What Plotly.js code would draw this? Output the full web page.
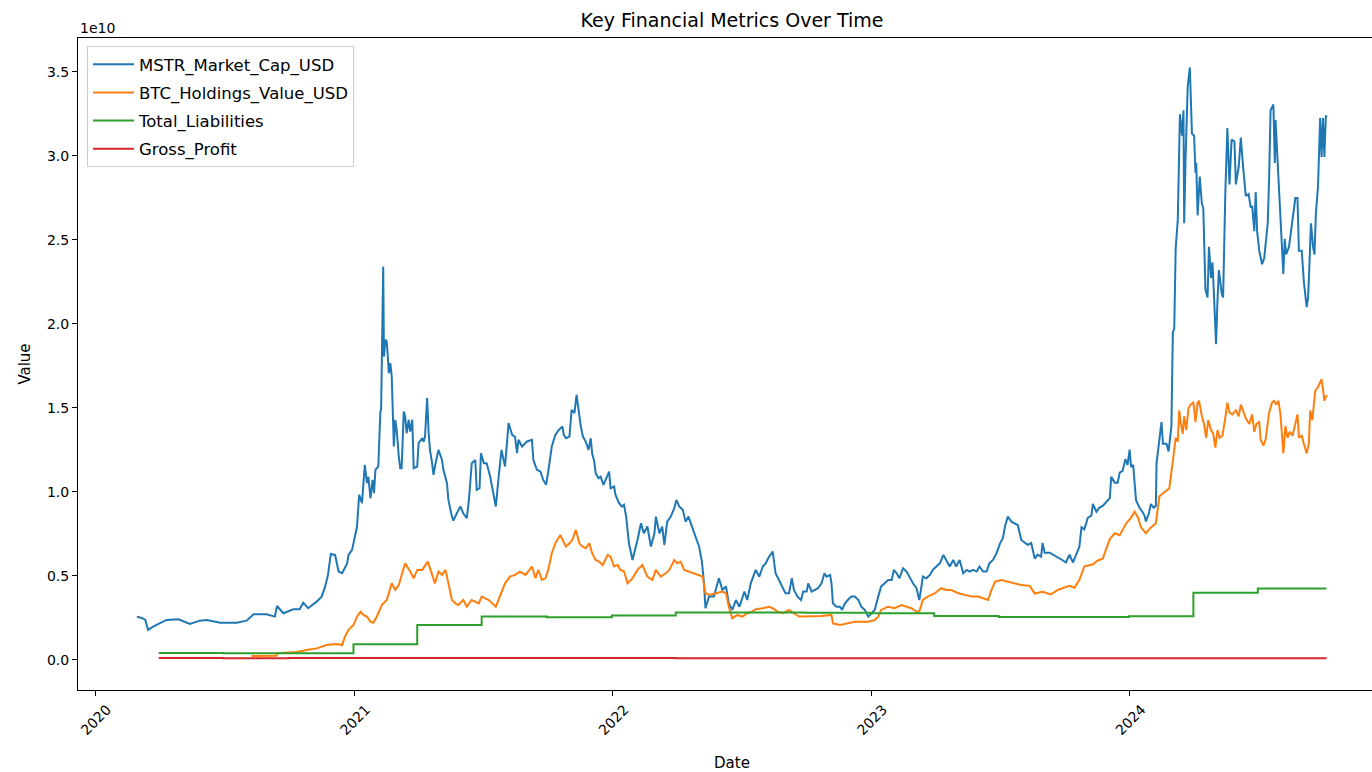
<!DOCTYPE html>
<html>
<head>
<meta charset="utf-8">
<script src="https://cdn.plot.ly/plotly-3.0.1.min.js"></script>
<style>
html,body{margin:0;padding:0;overflow:hidden;background:#fff;width:1372px;height:772px}
#chart{width:1390px;height:772px}
</style>
</head>
<body>
<div id="chart"></div>
<script>
// ---- data (days counted from 2020-01-01, values in billions of USD) ----
const mstrDay = [
59,66,71,75,82,92,101,118,129,134,
148,158,177,200,214,224,242,254,257,266,
280,289,294,301,313,320,325,329,333,339,
344,
349,356,358,363,367,370,373,377,381,384,
386,389,392,394,396,400,403,404,407,408,
410,412,415,417,419,422,424,426,429,431,
433,436,438,440,443,445,448,450,455,457,
462,464,466,469,471,473,476,478,480,485,
490,492,497,499,504,506,511,516,520,525,
528,532,537,539,543,545,549,553,558,563,
566,570,574,579,584,589,593,596,598,603,
610,617,619,624,629,633,637,640,645,650,
655,
660,662,665,670,673,677,680,683,686,689,
693,697,700,702,705,707,711,714,718,721,
726,728,733,735,740,744,747,750,754,759,
763,766,771,775,780,785,790,792,797,801,
804,808,813,818,821,825,830,834,838,844,
848,853,857,860,862,867,874,881,886,891,
895,900,905,910,917,921,926,933,938,943,
947,952,957,961,966,971,975,980,984,987,
992,997,
1000,1005,1007,1012,1016,1021,1026,1030,1033,1038,
1040,1042,1047,1052,1055,1059,1063,1068,1073,1078,
1082,1087,1092,1096,1101,1106,1110,1115,1120,1125,
1128,1132,1136,1141,1146,1150,1155,1160,1164,1167,
1169,1174,1179,1183,1188,1193,1198,1202,1207,1212,
1216,1221,1226,1231,1235,1240,1245,1249,1254,1259,
1263,1268,1273,1278,1282,1285,1289,1294,1299,1303,
1308,
1313,1317,1322,1327,1331,1336,1338,1341,1348,1353,
1357,1362,1367,1371,1376,1381,1386,1390,1393,1397,
1402,1407,1409,1414,1418,1423,1428,1433,1435,1440,
1444,1447,1451,1455,1458,1461,1463,1466,1470,1475,
1479,1482,1484,1488,1491,1495,1498,1499,1503,1506,
1508,1513,1516,1520,
1522,1524,1526,1529,1532,1535,1537,1538,1540,1543,
1546,1549,1552,1554,1555,1557,1560,1563,1565,1568,
1571,1573,1576,1578,1580,1583,1585,1587,1591,1593,
1596,1599,1602,1605,1609,1611,1615,1618,1621,1625,
1629,1632,1634,1637,1639,1641,1644,1648,1651,1656,
1658,1660,1664,1666,1667,1670,1673,1676,1678,1680,
1682,1686,1690,1695,1698,1700,1704,1707,1711,1713,
1715,1717,1720,1722,1724,1727,1730,1732,1734,1736,
1738,1740
];
const mstrMarketCapBn = [
2.58,2.50,2.38,1.79,1.98,2.18,2.38,2.42,2.24,2.14,
2.34,2.38,2.22,2.22,2.34,2.72,2.72,2.58,3.21,2.78,
3.02,3.02,3.41,3.08,3.47,3.77,4.36,5.06,6.31,6.25,
5.26,
5.16,5.75,6.25,6.55,7.24,7.94,9.82,9.33,11.61,10.52,
10.91,9.62,10.71,9.92,11.31,11.51,14.78,14.88,23.41,18.05,
19.05,18.95,17.06,17.66,16.87,12.70,14.29,13.69,12.10,11.41,
11.41,14.78,14.48,13.49,14.29,13.59,14.29,11.41,11.51,12.90,
13.19,12.99,13.29,15.58,13.59,12.50,11.71,11.01,11.51,12.50,
11.90,11.31,10.52,9.52,8.53,8.29,8.73,9.13,8.73,8.43,
9.52,11.71,11.90,10.12,10.22,12.30,11.71,11.71,10.91,9.92,
9.13,10.91,12.50,11.51,14.09,13.39,13.29,12.30,13.10,12.70,
13.00,13.10,11.90,11.31,11.21,10.71,10.42,11.21,12.70,13.39,
13.69,
13.89,13.39,13.19,13.29,14.88,14.68,15.77,14.68,13.89,13.29,
12.99,12.50,13.19,12.30,11.81,11.11,10.81,10.91,10.42,10.71,
11.21,10.22,10.32,9.82,9.33,9.13,9.23,8.53,6.94,5.95,
6.75,7.14,8.13,7.54,7.94,6.75,7.54,8.53,7.54,7.94,
6.84,8.23,8.53,9.03,9.52,9.13,8.93,8.23,8.53,7.74,
7.34,6.75,5.85,4.56,3.08,3.77,3.77,4.86,4.17,4.37,
3.37,2.98,3.57,3.17,4.07,3.57,4.56,5.36,4.96,5.56,
5.75,6.15,6.45,5.16,4.76,4.27,3.97,3.97,4.86,4.17,
3.77,3.57,
4.07,4.07,4.56,4.07,4.17,4.27,4.56,5.16,4.96,5.06,
4.56,3.37,3.17,3.17,2.98,3.37,3.57,3.77,3.77,3.57,
3.17,2.98,2.58,2.78,2.98,3.77,4.37,4.56,4.76,4.76,
5.36,5.16,4.86,5.46,5.26,4.96,4.56,4.27,3.57,4.37,
4.96,4.86,5.06,5.36,5.56,5.75,6.25,5.95,5.56,5.95,
5.56,5.95,5.16,5.36,5.26,5.36,5.26,5.56,5.26,5.26,
5.75,5.95,6.35,6.94,7.24,7.94,8.53,8.23,8.13,8.03,
7.14,
6.96,6.85,6.96,6.03,6.27,6.15,6.96,6.38,6.38,6.27,
6.15,6.03,5.92,5.80,6.27,5.80,6.27,6.73,7.89,7.77,
8.47,8.59,9.28,8.82,9.05,9.17,9.40,9.63,10.90,10.55,
10.55,11.14,11.25,11.95,11.60,12.52,11.48,11.60,9.51,9.05,
8.82,8.59,8.24,8.70,9.28,9.05,9.17,11.71,13.11,14.15,
12.87,12.87,12.41,13.92,
19.48,19.71,24.47,26.21,32.47,31.19,32.70,25.98,29.92,34.09,
35.25,31.31,31.19,28.98,29.57,26.44,28.76,27.14,26.91,22.04,
21.57,24.58,22.73,23.66,21.80,18.79,21.34,23.19,21.80,21.57,
27.60,31.65,28.29,30.96,30.84,28.29,29.34,31.07,29.45,27.60,
27.72,26.91,27.02,25.51,27.83,25.51,24.35,23.54,23.89,25.98,
28.76,32.70,33.05,29.57,32.12,29.57,27.60,25.05,22.96,25.05,
24.12,24.58,25.74,27.48,27.48,24.35,24.35,22.50,20.99,21.57,
23.66,25.98,24.58,24.12,26.56,28.18,32.24,29.92,32.24,29.92,
32.35,32.35
];

const btcDay = [
221,256,257,271,285,299,313,327,341,
349,353,358,365,370,375,379,384,389,393,
398,405,412,419,424,429,433,438,445,450,
455,462,470,476,480,485,490,495,499,504,
509,513,520,525,532,542,546,556,566,572,
579,586,593,600,608,617,622,626,631,636,
640,645,650,657,
660,665,670,674,679,684,688,693,698,702,
707,712,717,724,728,733,738,742,747,752,
759,766,773,780,787,792,799,806,811,818,
822,827,832,839,846,853,858,862,867,877,
886,891,895,900,907,914,921,928,933,943,
952,957,964,971,980,987,994,999,
1007,1016,1026,1040,1042,1052,1063,1073,1082,1092,
1101,1106,1110,1120,1129,1139,1146,1153,1160,1164,
1169,1176,1186,1195,1202,1209,1219,1228,1238,1247,
1256,1261,1266,1271,1280,1289,1299,1308,
1320,1327,1338,1350,1360,1369,1376,1383,1390,1397,
1409,1416,1423,1433,1440,1447,1451,1456,1463,1468,
1473,1477,1484,1491,1498,1503,1510,1517,
1522,1524,1526,1529,1531,1533,1536,1538,1541,1544,
1547,1551,1554,1557,1559,1563,1566,1569,1572,1576,
1579,1582,1585,1588,1592,1596,1599,1602,1606,1611,
1615,1618,1621,1625,1630,1634,1637,1640,1644,1646,
1650,1653,1658,1662,1665,1668,1671,1674,1678,1681,
1684,1687,1691,1695,1698,1700,1704,1707,1711,1714,
1716,1719,1723,1727,1730,1732,1734,1736,1738,1740
];
const btcHoldingsValueBn = [
0.24,0.25,0.40,0.42,0.48,0.60,0.69,0.89,0.95,
0.89,1.39,1.79,2.08,2.58,2.88,2.68,2.58,2.28,2.22,
2.58,3.27,3.57,4.56,4.17,4.46,5.06,5.75,5.26,4.86,
5.36,5.36,5.85,5.06,4.56,5.26,5.06,5.36,4.56,3.57,
3.37,3.27,3.57,3.17,3.57,3.37,3.77,3.57,3.17,3.77,
4.56,4.96,5.06,5.26,5.06,5.56,4.86,5.36,4.76,4.86,
5.36,6.35,6.94,7.44,
7.14,6.75,6.94,7.14,7.74,6.94,6.75,6.65,6.94,6.35,
5.95,5.85,5.65,6.25,6.15,5.56,5.65,5.36,5.26,4.56,
4.86,5.36,5.65,4.96,4.76,5.36,4.96,5.16,5.36,5.95,
5.75,5.85,5.36,5.26,5.16,5.06,4.96,3.97,3.87,3.97,
4.07,3.97,3.17,2.48,2.68,2.58,2.78,2.88,3.02,3.08,
3.17,3.08,2.88,2.78,2.98,2.78,2.58,2.58,
2.58,2.58,2.62,2.68,2.18,2.08,2.18,2.28,2.28,2.28,
2.38,2.58,2.98,3.17,3.08,3.27,3.17,3.08,2.88,2.88,
3.57,3.77,3.97,4.27,4.17,4.17,3.97,3.87,3.77,3.77,
3.67,3.57,4.17,4.66,4.76,4.66,4.56,4.46,
4.41,3.95,4.06,3.90,4.18,4.30,4.41,4.30,4.76,5.57,
5.68,5.92,6.03,7.19,7.54,7.42,7.77,8.12,8.47,8.82,
8.47,7.89,7.54,7.89,8.12,9.74,9.98,10.21,
11.83,12.76,13.22,12.99,14.85,14.15,13.45,14.50,13.68,14.96,
15.19,15.31,14.15,15.31,15.42,14.50,14.04,13.22,14.27,13.68,
13.45,12.64,13.68,13.22,13.34,14.38,15.31,14.73,14.61,14.85,
14.50,15.19,14.85,14.38,14.04,14.61,13.57,14.04,14.15,13.11,
12.76,13.11,14.73,15.31,15.42,15.19,15.42,14.61,12.29,13.92,
13.22,13.57,13.34,14.04,14.61,13.22,13.34,12.87,12.29,12.87,
14.85,14.27,16.01,16.24,16.47,16.70,16.12,15.42,15.65,15.73
];

const quarterDates = ['2020-03-31','2020-06-30','2020-09-30','2020-12-31',
  '2021-03-31','2021-06-30','2021-09-30','2021-12-31',
  '2022-03-31','2022-06-30','2022-09-30','2022-12-31',
  '2023-03-31','2023-06-30','2023-09-30','2023-12-31',
  '2024-03-31','2024-06-30'];
const totalLiabilitiesBn = [0.42,0.40,0.40,0.93, 2.08,2.58,2.55,2.64, 2.82,2.82,2.81,2.78, 2.62,2.56,2.56,2.60, 4.00,4.26];
const grossProfitBn = [0.12,0.11,0.12,0.12, 0.12,0.12,0.12,0.12, 0.11,0.11,0.11,0.11, 0.11,0.11,0.11,0.10, 0.10,0.10];
const lastObservation = '2024-10-05';

const seriesNames = ['MSTR_Market_Cap_USD','BTC_Holdings_Value_USD','Total_Liabilities','Gross_Profit'];
const seriesColors = ['#1f77b4','#ff7f0e','#2ca02c','#d62728'];
const yearTicks = ['2020-01-01','2021-01-01','2022-01-01','2023-01-01','2024-01-01'];
const yearLabels = ['2020','2021','2022','2023','2024'];
const valueTicksE10 = [0,0.5,1.0,1.5,2.0,2.5,3.0,3.5];
const valueLabels = ['0.0','0.5','1.0','1.5','2.0','2.5','3.0','3.5'];

// ---- helpers ----
const BASE = Date.UTC(2020,0,1);
const toDate = d => new Date(BASE + d*86400000).toISOString().slice(0,10);
const bn = v => v*1e9;

const qDates = quarterDates.concat([lastObservation]);
const liab = totalLiabilitiesBn.concat([totalLiabilitiesBn[totalLiabilitiesBn.length-1]]);
const gp = grossProfitBn.concat([grossProfitBn[grossProfitBn.length-1]]);

const traces = [
  {x: mstrDay.map(toDate), y: mstrMarketCapBn.map(bn)},
  {x: btcDay.map(toDate), y: btcHoldingsValueBn.map(bn)},
  {x: qDates, y: liab.map(bn), line: {shape:'hv'}},
  {x: qDates, y: gp.map(bn), line: {shape:'hv'}}
].map((t,i) => Object.assign({
  type:'scatter', mode:'lines', name: seriesNames[i], legendgroup: 'g'+i,
}, t, {line: Object.assign({color: seriesColors[i], width: 2}, t.line || {})}));

const FONT = 'DejaVu Sans, Verdana, sans-serif';
const layout = {
  width: 1390, height: 772,
  margin: {l: 78, r: 4, t: 38, b: 82, pad: 0},
  paper_bgcolor: '#ffffff', plot_bgcolor: '#ffffff',
  font: {family: FONT, size: 14, color: '#000'},
  showlegend: true,
  title: {text: 'Key Financial Metrics Over Time', font: {family: FONT, size: 19, color: '#000'},
          x: 0.5, xref: 'paper', xanchor: 'center', y: 1 - 20/772, yref: 'container', yanchor: 'middle'},
  xaxis: {
    type: 'date', range: ['2019-12-08', '2024-12-28'],
    tickmode: 'array', tickvals: yearTicks, ticktext: yearLabels, tickangle: -45,
    ticks: 'outside', ticklen: 5, tickwidth: 1, tickcolor: '#000',
    ticklabelshift: 12,
    showline: true, linecolor: '#000', linewidth: 1, mirror: true,
    showgrid: false, zeroline: false, automargin: false,
    tickfont: {family: FONT, size: 14, color: '#000'},
    title: {text: 'Date', font: {family: FONT, size: 15, color: '#000'}, standoff: 21}
  },
  yaxis: {
    range: [-1.785e9, 3.70e10],
    tickmode: 'array', tickvals: valueTicksE10.map(v => v*1e10), ticktext: valueLabels,
    ticks: 'outside', ticklen: 5, tickwidth: 1, tickcolor: '#000',
    showline: true, linecolor: '#000', linewidth: 1, mirror: true,
    showgrid: false, zeroline: false, automargin: false,
    tickfont: {family: FONT, size: 14, color: '#000'},
    title: {text: 'Value', font: {family: FONT, size: 15, color: '#000'}, standoff: 12}
  },
  legend: {
    x: 9/1308, y: 1 - 8/652, xanchor: 'left', yanchor: 'top',
    bgcolor: 'rgba(255,255,255,0.8)', bordercolor: '#cccccc', borderwidth: 1,
    font: {family: FONT, size: 16.5, color: '#000'}, tracegroupgap: 3.7, itemwidth: 41
  },
  annotations: [{
    text: '1e10', xref: 'paper', yref: 'paper', x: 0, y: 1, xanchor: 'left', yanchor: 'bottom',
    yshift: 0, showarrow: false, font: {family: FONT, size: 14, color: '#000'}
  }]
};

Plotly.newPlot('chart', traces, layout, {displayModeBar: false, staticPlot: true});
</script>
</body>
</html>
